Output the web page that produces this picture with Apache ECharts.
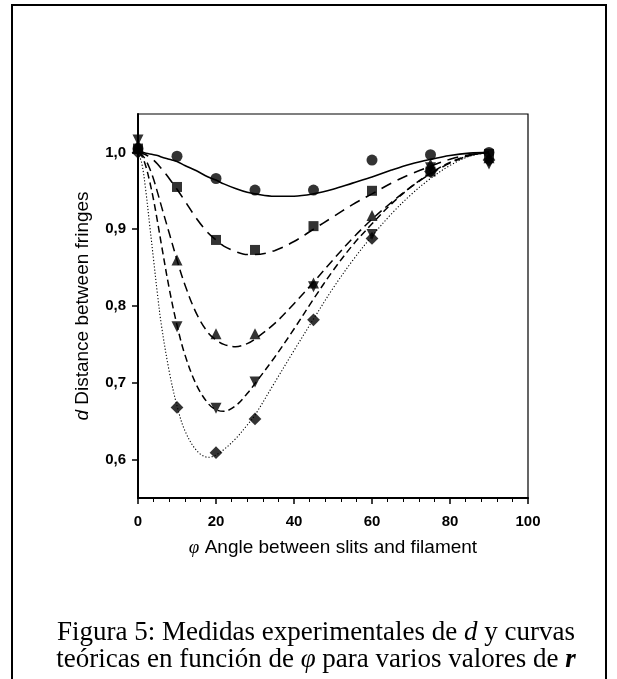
<!DOCTYPE html>
<html>
<head>
<meta charset="utf-8">
<script src="https://cdn.jsdelivr.net/npm/echarts@6/dist/echarts.min.js"></script>
<style>html,body{margin:0;padding:0;background:#fff;}#c{width:617px;height:679px;}</style>
</head>
<body>
<div id="c"></div>
<script>
// ---- data ----
const xTicks = [0, 20, 40, 60, 80, 100];
const yTicks = [0.6, 0.7, 0.8, 0.9, 1.0];
const xPoints = [0, 10, 20, 30, 45, 60, 75, 90];
const circlePts   = [1.005, 0.995, 0.966, 0.951, 0.951, 0.990, 0.997, 1.000];
const squarePts   = [1.005, 0.955, 0.886, 0.873, 0.904, 0.950, 0.975, 0.998];
const trianglePts = [1.010, 0.860, 0.764, 0.764, 0.830, 0.918, 0.985, 0.993];
const invTriPts   = [1.016, 0.773, 0.667, 0.701, 0.825, 0.893, 0.980, 0.985];
const diamondPts  = [1.000, 0.668, 0.609, 0.653, 0.782, 0.888, 0.975, 0.990];

const xCurve = [0,1,2,3,4,5,6,8,10,12,15,18,20,22,25,28,30,35,40,45,50,55,60,65,70,75,80,85,90];
const curveCircle   = [1.000,1.000,0.999,0.998,0.997,0.996,0.994,0.991,0.988,0.983,0.976,0.968,0.964,0.959,0.953,0.948,0.946,0.943,0.943,0.946,0.952,0.960,0.968,0.977,0.985,0.991,0.996,0.999,1.000];
const curveSquare   = [1.000,0.999,0.997,0.994,0.990,0.985,0.979,0.966,0.952,0.937,0.914,0.895,0.886,0.878,0.871,0.867,0.867,0.872,0.884,0.900,0.916,0.932,0.946,0.960,0.972,0.982,0.991,0.997,1.000];
const curveTriangle = [1.000,0.997,0.990,0.979,0.965,0.948,0.930,0.895,0.860,0.828,0.790,0.765,0.756,0.750,0.747,0.751,0.757,0.777,0.803,0.831,0.860,0.888,0.913,0.935,0.955,0.972,0.986,0.996,1.000];
const curveInvTri   = [1.000,0.995,0.982,0.962,0.938,0.910,0.880,0.823,0.775,0.737,0.697,0.673,0.665,0.663,0.670,0.686,0.699,0.733,0.770,0.809,0.846,0.879,0.907,0.933,0.955,0.973,0.987,0.996,1.000];
const curveDiamond  = [1.000,0.985,0.950,0.905,0.860,0.815,0.775,0.715,0.670,0.638,0.612,0.603,0.606,0.613,0.627,0.645,0.658,0.700,0.742,0.783,0.823,0.859,0.891,0.920,0.945,0.966,0.983,0.995,1.000];

const xTitle = '{i|φ} Angle between slits and filament';
const yTitle = '{i|d} Distance between fringes';
const captionLine1 = 'Figura 5: Medidas experimentales de {i|d} y curvas';
const captionLine2 = 'teóricas en función de {i|φ} para varios valores de {b|r}';

// ---- chart ----
const pair = (xs, ys) => xs.map((x, i) => [x, ys[i]]);
const chart = echarts.init(document.getElementById('c'), null, {renderer: 'canvas'});

function curve(ys, type, width) {
  return {
    type: 'line', data: pair(xCurve, ys), symbol: 'none', smooth: 0.35,
    lineStyle: {color: '#000', width: width, type: type}, z: 2, silent: true
  };
}
function marks(ys, symbol, size, rotate) {
  return {
    type: 'scatter', data: pair(xPoints, ys), symbol: symbol, symbolSize: size,
    symbolRotate: rotate || 0, itemStyle: {color: '#000'}, z: 5, silent: true
  };
}

chart.setOption({
  animation: false,
  backgroundColor: '#fff',
  grid: {left: 138, right: 89, top: 114, bottom: 181, show: true, borderColor: '#000', borderWidth: 1.2},
  xAxis: {
    type: 'value', min: 0, max: 100, interval: 20,
    axisLine: {show: true, onZero: false, lineStyle: {color: '#000', width: 2}},
    axisTick: {show: true, inside: false, length: 6, lineStyle: {color: '#000', width: 1.5}},
    minorTick: {show: true, splitNumber: 5, length: 4, lineStyle: {color: '#000', width: 1}},
    splitLine: {show: false},
    axisLabel: {color: '#000', fontFamily: 'Liberation Sans', fontWeight: 'bold', fontSize: 15, margin: 16,
      customValues: xTicks},
    name: xTitle, nameLocation: 'middle', nameGap: 40,
    nameTextStyle: {color: '#000', fontFamily: 'Liberation Sans', fontSize: 19,
      rich: {i: {fontStyle: 'italic', fontFamily: 'Liberation Serif', fontSize: 19, color: '#000'}}}
  },
  yAxis: {
    type: 'value', min: 0.55, max: 1.05,
    axisLine: {show: true, onZero: false, lineStyle: {color: '#000', width: 2}},
    axisTick: {show: true, inside: false, length: 6, lineStyle: {color: '#000', width: 1.5}, customValues: yTicks},
    splitLine: {show: false},
    axisLabel: {color: '#000', fontFamily: 'Liberation Sans', fontWeight: 'bold', fontSize: 15, margin: 12,
      customValues: yTicks, formatter: v => v.toFixed(1).replace('.', ',')},
    name: yTitle, nameLocation: 'middle', nameGap: 46, nameRotate: 90,
    nameTextStyle: {color: '#000', fontFamily: 'Liberation Sans', fontSize: 19,
      rich: {i: {fontStyle: 'italic', fontFamily: 'Liberation Sans', fontSize: 19, color: '#000'}}}
  },
  series: [
    curve(curveCircle, 'solid', 1.6),
    curve(curveSquare, [11, 7], 1.6),
    curve(curveTriangle, [9, 5], 1.5),
    curve(curveInvTri, [7, 4], 1.5),
    curve(curveDiamond, [1.2, 2], 1.1),
    marks(circlePts, 'circle', 11),
    marks(squarePts, 'rect', 10),
    marks(trianglePts, 'triangle', 11),
    marks(invTriPts, 'triangle', 11, 180),
    marks(diamondPts, 'rect', 9, 45)
  ],
  graphic: [
    {type: 'polyline', shape: {points: [[12, 679], [12, 5], [606, 5], [606, 679]]},
     style: {stroke: '#000', lineWidth: 2, fill: null}, silent: true},
    {type: 'text', x: 316, y: 633, style: {text: captionLine1, align: 'center', verticalAlign: 'middle',
      font: '27px "Liberation Serif"', fill: '#000',
      rich: {i: {fontStyle: 'italic', fontFamily: 'Liberation Serif', fontSize: 27, fill: '#000'}}}},
    {type: 'text', x: 316, y: 660, style: {text: captionLine2, align: 'center', verticalAlign: 'middle',
      font: '27px "Liberation Serif"', fill: '#000',
      rich: {i: {fontStyle: 'italic', fontFamily: 'Liberation Serif', fontSize: 27, fill: '#000'},
             b: {fontStyle: 'italic', fontWeight: 'bold', fontFamily: 'Liberation Serif', fontSize: 27, fill: '#000'}}}}
  ]
});
</script>
</body>
</html>
